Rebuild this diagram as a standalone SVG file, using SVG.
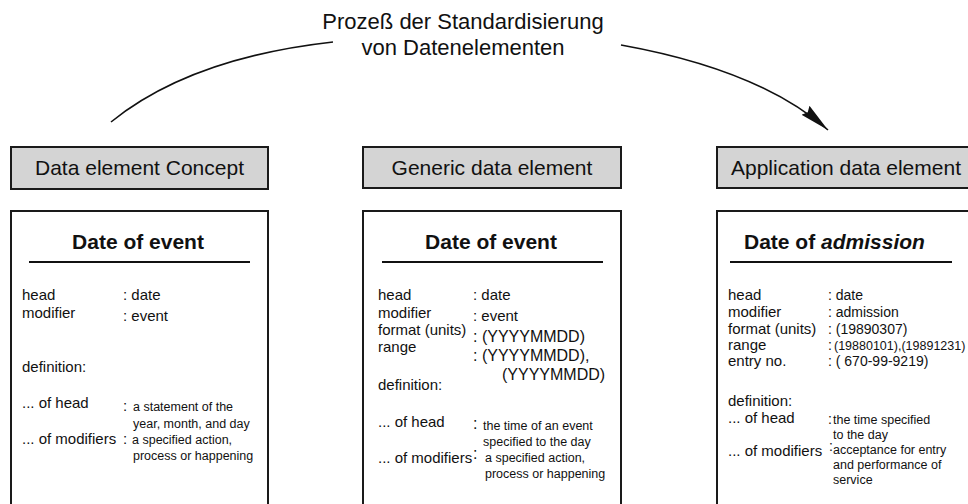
<svg xmlns="http://www.w3.org/2000/svg" width="968" height="504" viewBox="0 0 968 504">
<defs>
<style>
text{font-family:"Liberation Sans",Arial,sans-serif;fill:#111}
.t{font-size:22px}
.bt{font-size:21px;text-anchor:middle}
.h{font-size:21px;font-weight:bold}
.l{font-size:15px}
.s{font-size:12.5px}
.v{font-size:14px}
.big{font-size:16px}
.hdr{fill:#d4d4d4;stroke:#1a1a1a;stroke-width:2}
.card{fill:#fff;stroke:#1a1a1a;stroke-width:2}
.ul{stroke:#111;stroke-width:2}
.con{fill:none;stroke:#111;stroke-width:1.6}
</style>
<marker id="ah" markerWidth="32" markerHeight="14" refX="30" refY="7" orient="auto" markerUnits="userSpaceOnUse">
<path d="M0,1 L30,7 L0,13 L3,7 Z" fill="#111"/>
</marker>
</defs>
<rect width="968" height="504" fill="#fff"/>

<g id="title">
<text class="t" x="463" y="29" text-anchor="middle">Prozeß der Standardisierung</text>
<text class="t" x="463" y="55" text-anchor="middle">von Datenelementen</text>
</g>

<g id="connectors">
<path class="con" d="M111,122 Q190,58 333,42"/>
<path class="con" d="M621,45 Q760,70 828,130" marker-end="url(#ah)"/>
</g>

<g id="concept">
<rect class="hdr" x="11" y="147" width="257" height="42"/>
<text class="bt" x="139.5" y="175">Data element Concept</text>
<rect class="card" x="11" y="211" width="257" height="320"/>
<text class="h" x="138" y="249" text-anchor="middle">Date of event</text>
<line class="ul" x1="29" y1="262" x2="250" y2="262"/>
<text class="l" x="22" y="300">head</text>
<text class="l" x="123" y="300">: date</text>
<text class="l" x="22" y="318">modifier</text>
<text class="l" x="123" y="321">: event</text>
<text class="l" x="22" y="372">definition:</text>
<text class="l" x="22" y="408">... of head</text>
<text class="l" x="123" y="411">:</text>
<text class="s" x="133" y="411">a statement of the</text>
<text class="s" x="133" y="428">year, month, and day</text>
<text class="l" x="22" y="444">... of modifiers</text>
<text class="l" x="123" y="444">:</text>
<text class="s" x="132" y="444">a specified action,</text>
<text class="s" x="133" y="460">process or happening</text>
</g>

<g id="generic">
<rect class="hdr" x="363" y="147" width="258" height="41"/>
<text class="bt" x="492" y="175">Generic data element</text>
<rect class="card" x="363" y="211" width="258" height="320"/>
<text class="h" x="491" y="249" text-anchor="middle">Date of event</text>
<line class="ul" x1="382" y1="262" x2="603" y2="262"/>
<text class="l" x="378" y="300">head</text>
<text class="l" x="473" y="300">: date</text>
<text class="l" x="378" y="318">modifier</text>
<text class="l" x="473" y="321">: event</text>
<text class="l" x="378" y="335">format (units)</text>
<text class="big" x="473" y="342">: (YYYYMMDD)</text>
<text class="l" x="378" y="352">range</text>
<text class="big" x="473" y="361">: (YYYYMMDD),</text>
<text class="big" x="502" y="380">(YYYYMMDD)</text>
<text class="l" x="378" y="390">definition:</text>
<text class="l" x="378" y="427">... of head</text>
<text class="big" x="473" y="429">:</text>
<text class="s" x="483" y="430">the time of an event</text>
<text class="s" x="483" y="446">specified to the day</text>
<text class="l" x="378" y="463">... of modifiers</text>
<text class="big" x="473" y="459">:</text>
<text class="s" x="485" y="462">a specified action,</text>
<text class="s" x="485" y="478">process or happening</text>
</g>

<g id="application">
<rect class="hdr" x="717" y="147" width="262" height="41"/>
<text class="bt" x="846" y="175">Application data element</text>
<rect class="card" x="717" y="211" width="262" height="320"/>
<text class="h" x="744" y="249">Date of <tspan font-style="italic">admission</tspan></text>
<line class="ul" x1="730" y1="262" x2="952" y2="262"/>
<text class="l" x="728" y="300">head</text>
<text class="v" x="828" y="300">: date</text>
<text class="l" x="728" y="317">modifier</text>
<text class="v" x="828" y="317">: admission</text>
<text class="l" x="728" y="334">format (units)</text>
<text class="v" x="828" y="334">: (19890307)</text>
<text class="l" x="728" y="350">range</text>
<text class="v" x="828" y="350">:</text>
<text class="s" x="834" y="350">(19880101),(19891231)</text>
<text class="l" x="728" y="366">entry no.</text>
<text class="v" x="828" y="366">: ( 670-99-9219)</text>
<text class="l" x="728" y="406">definition:</text>
<text class="l" x="728" y="423">... of head</text>
<text class="v" x="828" y="424">:</text>
<text class="s" x="833" y="424">the time specified</text>
<text class="s" x="833" y="439">to the day</text>
<text class="l" x="728" y="456">... of modifiers</text>
<text class="v" x="829" y="451">:</text>
<text class="s" x="833" y="454">acceptance for entry</text>
<text class="s" x="833" y="469">and performance of</text>
<text class="s" x="833" y="484">service</text>
</g>
</svg>
